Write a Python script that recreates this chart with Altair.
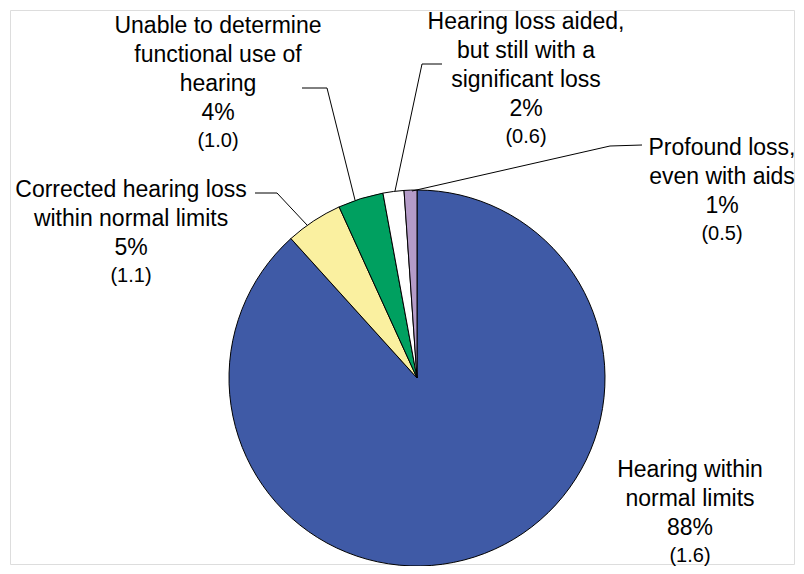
import altair as alt
import pandas as pd

# ---- data ----
categories = [
    "Hearing within normal limits",
    "Corrected hearing loss within normal limits",
    "Unable to determine functional use of hearing",
    "Hearing loss aided, but still with a significant loss",
    "Profound loss, even with aids",
]
values = [88.3, 4.9, 3.9, 1.8, 1.1]
pct_labels = ["88%", "5%", "4%", "2%", "1%"]
se_labels = ["(1.6)", "(1.1)", "(1.0)", "(0.6)", "(0.5)"]
label_lines = [
    ["Hearing within", "normal limits"],
    ["Corrected hearing loss", "within normal limits"],
    ["Unable to determine", "functional use of", "hearing"],
    ["Hearing loss aided,", "but still with a", "significant loss"],
    ["Profound loss,", "even with aids"],
]
colors = ["#3F5AA6", "#FAF0A0", "#00A060", "#FFFFFF", "#B49BC8"]

# ---- layout (pixel positions of annotations, in svg coordinates) ----
W, H = 788, 558
PAD = 2
CX, CY, R = 409, 370, 188
label_x = [682, 123, 210, 518, 714]
label_y = [469, 189, 25, 21, 147]
LINE_H = 29
SUB_GAP = 27
leaders = [
    [],
    [(247, 185), (269, 185), (299, 217)],
    [(294, 80), (319, 80), (347, 192)],
    [(434, 56), (414, 56), (387, 183)],
    [(634, 137), (602, 138), (404, 183)],
]

pie_df = pd.DataFrame({
    "category": categories,
    "value": values,
    "order": list(range(len(categories))),
})

main_rows, sub_rows, line_rows = [], [], []
for i in range(len(categories)):
    lines = label_lines[i] + [pct_labels[i]]
    main_rows.append({"x": label_x[i], "y": label_y[i], "text": "\n".join(lines)})
    sub_rows.append({"x": label_x[i],
                     "y": label_y[i] + LINE_H * (len(lines) - 1) + SUB_GAP,
                     "text": se_labels[i]})
    for k, (px, py) in enumerate(leaders[i]):
        line_rows.append({"id": i, "k": k, "x": px, "y": py})

main_df = pd.DataFrame(main_rows)
sub_df = pd.DataFrame(sub_rows)
line_df = pd.DataFrame(line_rows)

xs = alt.Scale(domain=[PAD, W - PAD], nice=False, zero=False)
ys = alt.Scale(domain=[H - PAD, PAD], nice=False, zero=False)
no_axis = alt.Axis(domain=False, ticks=False, labels=False, grid=False,
                   title="", domainOpacity=0, tickOpacity=0)

pie = alt.Chart(pie_df).mark_arc(
    radius=R, stroke="black", strokeWidth=1
).encode(
    theta=alt.Theta("value:Q", stack=True),
    order=alt.Order("order:Q", sort="ascending"),
    color=alt.Color("category:N", sort=categories,
                    scale=alt.Scale(domain=categories, range=colors), legend=None),
    x=alt.value(CX - PAD),
    y=alt.value(CY - PAD),
)

leader = alt.Chart(line_df).mark_line(color="black", strokeWidth=1).encode(
    x=alt.X("x:Q", scale=xs, axis=no_axis),
    y=alt.Y("y:Q", scale=ys, axis=no_axis),
    detail="id:N",
    order="k:Q",
)

main_text = alt.Chart(main_df).mark_text(
    font="Liberation Sans", fontSize=23, align="center", baseline="alphabetic",
    lineBreak="\n", lineHeight=LINE_H, color="black"
).encode(
    x=alt.X("x:Q", scale=xs, axis=no_axis),
    y=alt.Y("y:Q", scale=ys, axis=no_axis),
    text="text:N",
)

sub_text = alt.Chart(sub_df).mark_text(
    font="Liberation Sans", fontSize=20, align="center", baseline="alphabetic",
    color="black"
).encode(
    x=alt.X("x:Q", scale=xs, axis=no_axis),
    y=alt.Y("y:Q", scale=ys, axis=no_axis),
    text="text:N",
)

chart = alt.layer(pie, leader, main_text, sub_text).properties(
    width=W - 2 * PAD, height=H - 2 * PAD,
    padding={"left": PAD, "top": PAD, "right": PAD, "bottom": PAD},
    autosize=alt.AutoSizeParams(type="none"),
).configure_view(stroke="transparent", strokeWidth=0, strokeOpacity=0).configure_axis(
    domain=False, ticks=False, labels=False, grid=False, domainOpacity=0
).configure(background="white")

chart.save("out.html", embed_options={"renderer": "svg", "actions": False})
